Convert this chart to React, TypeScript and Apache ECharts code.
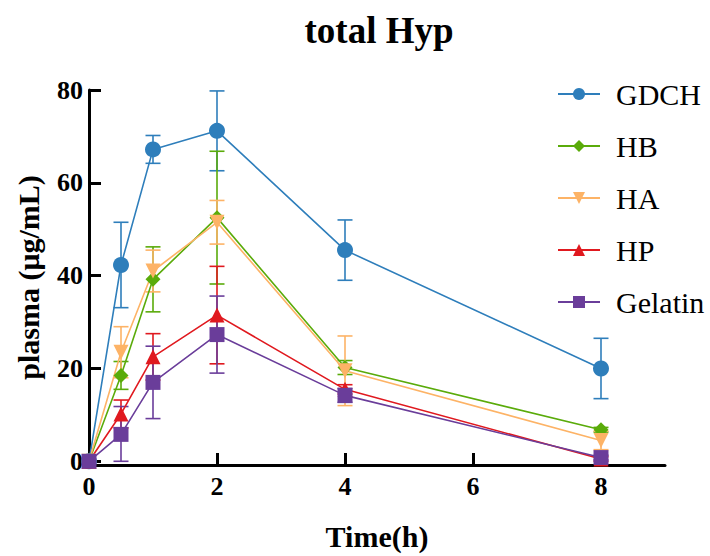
import React, { useEffect, useRef } from "react";
import * as echarts from "echarts";

const times = [0, 0.5, 1, 2, 4, 8];
const seriesNames = ["GDCH", "HB", "HA", "HP", "Gelatin"];
const colors = ["#2e7ebb", "#5aab0a", "#fdb366", "#e0191f", "#6a3d9a"];
const symbols = ["circle", "diamond", "triangle", "triangle", "rect"];
const symbolRotate = [0, 0, 180, 0, 0];
const symbolSizes = [16, 15, 15, 15, 15];

const gdch = [0, 42.3, 67.2, 71.2, 45.5, 20.0];
const gdchErr = [0, 9.2, 3.0, 8.6, 6.5, 6.5];
const hb = [0, 18.5, 39.2, 52.5, 20.2, 6.8];
const hbErr = [0, 3.0, 7.0, 14.3, 1.5, 0.5];
const ha = [0, 23.5, 41.0, 51.5, 19.5, 4.5];
const haErr = [0, 5.5, 4.5, 4.7, 7.5, 2.0];
const hp = [0, 10.2, 22.5, 31.5, 15.5, 0.5];
const hpErr = [0, 3.0, 5.0, 10.5, 1.0, 0.5];
const gelatin = [0, 5.8, 17.0, 27.3, 14.2, 0.8];
const gelatinErr = [0, 6.0, 7.8, 8.3, 1.5, 0.5];

const values = [gdch, hb, ha, hp, gelatin];
const errors = [gdchErr, hbErr, haErr, hpErr, gelatinErr];

const xTicks = [0, 2, 4, 6, 8];
const yTicks = [0, 20, 40, 60, 80];

const FONT = "Liberation Serif";

export default function App() {
  const ref = useRef<HTMLDivElement>(null);
  useEffect(() => {
    if (!ref.current) return;
    const chart = echarts.init(ref.current, undefined, { renderer: "svg" });
    const series: any[] = [];
    values.forEach((vals, i) => {
      const errs = errors[i];
      series.push({
        name: seriesNames[i] + " err",
        type: "custom",
        z: 1,
        silent: true,
        data: times.map((t, j) => [t, vals[j] - errs[j], vals[j] + errs[j]]),
        renderItem: (params: any, api: any) => {
          const x = api.value(0);
          const lo = api.coord([x, Math.max(0, api.value(1))]);
          const hi = api.coord([x, api.value(2)]);
          const hw = 7.5;
          const style = { stroke: colors[i], lineWidth: 1.6 };
          return {
            type: "group",
            children: [
              { type: "line", shape: { x1: lo[0], y1: lo[1], x2: hi[0], y2: hi[1] }, style },
              { type: "line", shape: { x1: lo[0] - hw, y1: lo[1], x2: lo[0] + hw, y2: lo[1] }, style },
              { type: "line", shape: { x1: hi[0] - hw, y1: hi[1], x2: hi[0] + hw, y2: hi[1] }, style },
            ],
          };
        },
      });
    });
    values.forEach((vals, i) => {
      series.push({
        name: seriesNames[i],
        type: "line",
        z: 3,
        data: times.map((t, j) => [t, vals[j]]),
        symbol: symbols[i],
        symbolRotate: symbolRotate[i],
        symbolSize: symbolSizes[i],
        showAllSymbol: true,
        lineStyle: { color: colors[i], width: 1.6 },
        itemStyle: { color: colors[i] },
      });
    });
    chart.setOption({
      animation: false,
      textStyle: { fontFamily: FONT },
      title: {
        text: "total Hyp",
        left: 374,
        textAlign: "center",
        top: 7,
        textStyle: { fontFamily: FONT, fontSize: 37, fontWeight: "bold", color: "#000" },
      },
      legend: {
        data: seriesNames,
        orient: "vertical",
        left: 552,
        top: 74,
        itemWidth: 42,
        itemHeight: 15,
        itemGap: 22,
        textStyle: { fontFamily: FONT, fontSize: 30, fontWeight: "normal", color: "#000", padding: [0, 0, 0, 11] },
      },
      grid: { left: 89, right: 45, top: 90, bottom: 83, containLabel: false },
      xAxis: {
        type: "value",
        min: 0,
        max: 9,
        interval: 2,
        name: "Time(h)",
        nameLocation: "middle",
        nameGap: 56,
        nameTextStyle: { fontFamily: FONT, fontSize: 30, fontWeight: "bold", color: "#000" },
        axisLine: { show: true, onZero: false, lineStyle: { color: "#000", width: 3 } },
        axisTick: { show: true, inside: true, length: 12, lineStyle: { color: "#000", width: 3 }, customValues: xTicks },
        axisLabel: { fontFamily: FONT, fontSize: 26, fontWeight: "bold", color: "#000", margin: 8, customValues: xTicks },
        splitLine: { show: false },
      },
      yAxis: {
        type: "value",
        min: -0.8,
        max: 80,
        name: "plasma (μg/mL)",
        nameLocation: "middle",
        nameGap: 46,
        nameTextStyle: { fontFamily: FONT, fontSize: 30, fontWeight: "bold", color: "#000" },
        axisLine: { show: true, onZero: false, lineStyle: { color: "#000", width: 3 } },
        axisTick: { show: true, inside: true, length: 12, lineStyle: { color: "#000", width: 3 }, customValues: yTicks },
        axisLabel: { fontFamily: FONT, fontSize: 26, fontWeight: "bold", color: "#000", margin: 6, customValues: yTicks },
        splitLine: { show: false },
      },
      series,
    });
    return () => chart.dispose();
  }, []);
  return (
    <div
      ref={ref}
      style={{ position: "absolute", left: 0, top: 0, width: 710, height: 556 }}
    />
  );
}
